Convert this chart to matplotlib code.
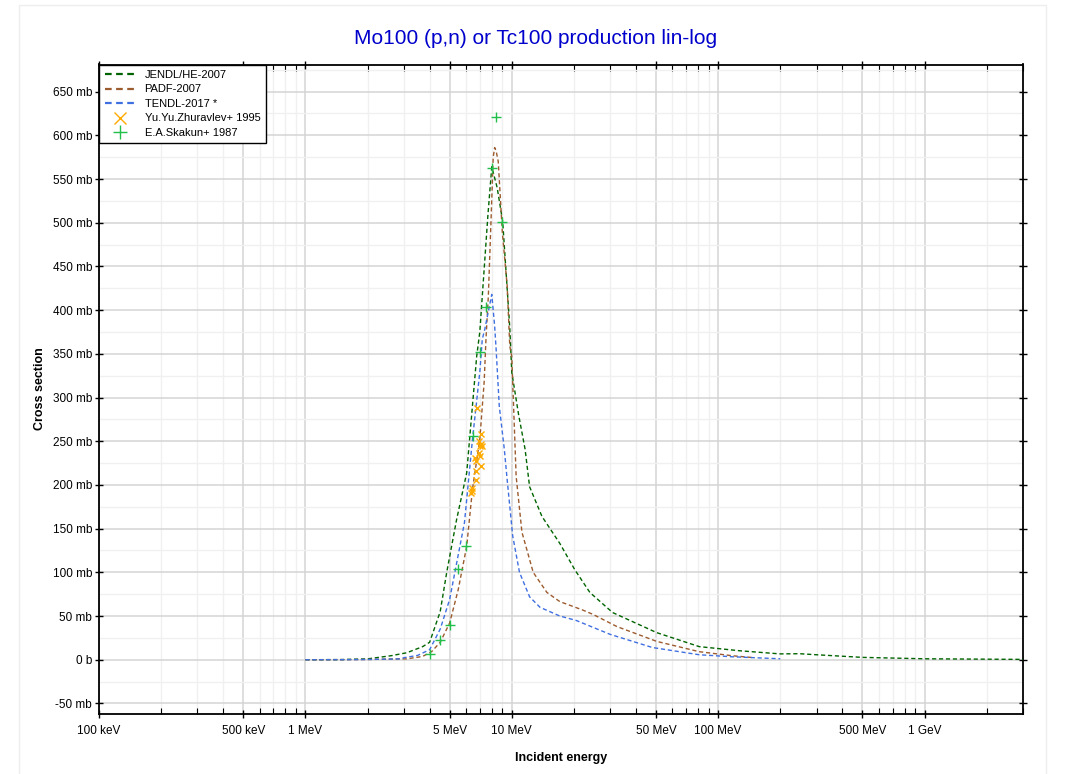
import numpy as np
import matplotlib
matplotlib.use("Agg")
import matplotlib.pyplot as plt
from matplotlib.ticker import FixedLocator, NullFormatter, MultipleLocator

plt.rcParams['font.family'] = ['Liberation Sans', 'DejaVu Sans']

# energies in eV, cross sections in mb
jendl_e = [1.0e6, 1.5e6, 2.0e6, 2.6e6, 3.1e6, 3.7e6, 4.0e6, 4.5e6, 4.84e6, 5.4e6, 6.05e6, 6.76e6,
           7.0e6, 7.66e6, 8.0e6, 8.5e6, 9.04e6, 9.78e6, 10.0e6, 10.8e6, 11.6e6, 12.2e6, 14.0e6,
           17.1e6, 20.2e6, 23.9e6, 30.8e6, 50.4e6, 81e6, 127e6, 199e6, 248e6, 300e6, 501e6,
           1.0e9, 3.0e9]
jendl_xs = [0.0, 0.2, 1.0, 4.6, 8.0, 15.0, 20.0, 55.0, 100.0, 160.0, 214.0, 347.0,
            375.0, 508.0, 564.0, 540.0, 501.0, 380.0, 329.0, 280.0, 241.0, 198.0, 164.0,
            133.0, 103.0, 77.0, 54.0, 31.0, 15.0, 10.3, 6.7, 6.9, 5.7, 2.7,
            1.1, 0.4]

padf_e = [1.0e6, 1.5e6, 2.0e6, 2.87e6, 3.1e6, 3.7e6, 4.1e6, 4.5e6, 5.0e6, 5.5e6, 6.05e6, 6.45e6,
          7.0e6, 7.35e6, 7.5e6, 7.7e6, 8.0e6, 8.13e6, 8.26e6, 8.4e6, 8.6e6, 9.0e6, 9.5e6, 9.78e6,
          10.0e6, 10.5e6, 11.2e6, 12.7e6, 14.8e6, 17.1e6, 22.0e6, 24.7e6, 32.3e6, 50.4e6, 81e6,
          117e6, 150e6]
padf_xs = [0.0, 0.1, 0.3, 1.0, 1.0, 3.8, 9.5, 20.0, 42.0, 80.0, 130.0, 195.0,
           252.0, 318.0, 367.0, 416.0, 527.0, 575.0, 586.0, 582.0, 570.0, 489.0, 428.0, 359.0,
           347.0, 210.0, 146.0, 100.0, 77.0, 66.5, 57.0, 52.0, 38.0, 21.0, 9.2,
           4.6, 2.3]

tendl_e = [1.0e6, 1.5e6, 2.0e6, 2.87e6, 3.0e6, 3.5e6, 4.0e6, 4.5e6, 5.0e6, 5.9e6, 6.45e6, 7.0e6,
           7.2e6, 7.4e6, 8.0e6, 8.26e6, 8.4e6, 8.7e6, 9.2e6, 9.5e6, 10.1e6, 10.9e6, 12.2e6,
           13.7e6, 17.1e6, 20.5e6, 30e6, 48e6, 81e6, 117e6, 200e6]
tendl_xs = [0.0, 0.1, 0.3, 1.0, 2.3, 5.0, 11.5, 35.0, 69.0, 157.0, 252.0, 329.0,
            367.0, 378.0, 418.0, 382.0, 355.0, 290.0, 241.0, 206.0, 142.0, 100.0, 72.0,
            60.0, 50.0, 45.0, 29.0, 14.0, 5.7, 3.4, 1.1]

zhur_e = [6.79e6, 7.12e6, 6.94e6, 7.12e6, 7.0e6, 7.16e6, 6.94e6, 7.0e6, 6.63e6, 6.7e6,
          7.07e6, 6.7e6, 6.72e6, 6.45e6, 6.45e6, 6.38e6]
zhur_xs = [288.5, 258.7, 250.3, 246.5, 244.5, 244.5, 237.0, 233.0, 231.0, 227.0,
           222.0, 216.0, 206.0, 197.0, 193.0, 191.0]

skak_e = [8.43e6, 7.98e6, 9.0e6, 7.48e6, 7.0e6, 6.47e6, 6.0e6, 5.5e6, 5.0e6, 4.5e6, 4.0e6]
skak_xs = [621.0, 563.0, 500.6, 403.0, 351.6, 256.0, 130.0, 104.0, 40.0, 23.0, 6.5]

xticks = [1e5, 5e5, 1e6, 5e6, 1e7, 5e7, 1e8, 5e8, 1e9]
xlabels = ['100 keV', '500 keV', '1 MeV', '5 MeV', '10 MeV', '50 MeV', '100 MeV', '500 MeV', '1 GeV']
yticks = list(range(-50, 651, 50))
ylabels = [('0 b' if v == 0 else '%d mb' % v) for v in yticks]

fig = plt.figure(figsize=(10.71, 7.74), dpi=100, facecolor='#FFFFFF')
# faint page frame
fig.patches.append(plt.Rectangle((19 / 1071, -0.01), (1046 - 19) / 1071, 1 - 5 / 774 + 0.01,
                                 transform=fig.transFigure, fill=False,
                                 edgecolor='#eeeeee', linewidth=1.0))
ax = fig.add_axes([99 / 1071, 1 - 713.5 / 774, (1023 - 99) / 1071, (713.5 - 64.5) / 774])

dash = (0, (3, 2))
ax.plot(jendl_e, jendl_xs, color='#006400', linestyle=dash, linewidth=1.0, label='JENDL/HE-2007', zorder=3)
ax.plot(padf_e, padf_xs, color='#9c5b2e', linestyle=dash, linewidth=1.0, label='PADF-2007', zorder=3)
ax.plot(tendl_e, tendl_xs, color='#3f6fe0', linestyle=dash, linewidth=1.0, label='TENDL-2017 *', zorder=3)
ax.plot(zhur_e, zhur_xs, linestyle='none', marker='x', color='#ffaa00', markersize=5,
        markeredgewidth=1.0, label='Yu.Yu.Zhuravlev+ 1995', zorder=4)
ax.plot(skak_e, skak_xs, linestyle='none', marker='+', color='#22c04a', markersize=7,
        markeredgewidth=1.0, label='E.A.Skakun+ 1987', zorder=4)

ax.set_xscale('log')
ax.set_xlim(1e5, 3e9)
ax.set_ylim(-61.5, 681)

ax.xaxis.set_major_locator(FixedLocator(xticks))
ax.set_xticklabels(xlabels)
minor_x = [m * 10 ** d for d in range(5, 10) for m in (2, 3, 4, 6, 7, 8, 9) if m * 10 ** d <= 3e9]
ax.xaxis.set_minor_locator(FixedLocator(minor_x))
ax.xaxis.set_minor_formatter(NullFormatter())
ax.set_yticks(yticks)
ax.set_yticklabels(ylabels)
ax.yaxis.set_minor_locator(MultipleLocator(25))

ax.grid(which='major', color='#d4d4d4', linewidth=1.1, zorder=0)
ax.grid(which='minor', color='#f0f0f0', linewidth=1.0, zorder=0)
ax.set_axisbelow(True)

ax.tick_params(which='major', direction='inout', length=6, width=1.0, labelsize=8.5,
               top=True, right=True, colors='black')
ax.tick_params(axis='x', which='minor', direction='in', length=4, width=0.8, top=True)
ax.tick_params(axis='y', which='minor', length=0)
ax.tick_params(axis='x', which='major', pad=5)
ax.tick_params(axis='y', which='major', pad=2)
for s in ax.spines.values():
    s.set_linewidth(1.3)

ax.set_xlabel('Incident energy', fontsize=9, fontweight='bold', labelpad=11)
ax.set_ylabel('Cross section', fontsize=9, fontweight='bold', labelpad=5)
fig.text(0.5, 1 - 38 / 774, 'Mo100 (p,n) or Tc100 production lin-log', color='#0000cc',
         fontsize=15, ha='center', va='center')

leg = ax.legend(loc='upper left', fontsize=8, frameon=True, fancybox=False,
                edgecolor='black', borderaxespad=0.0, handlelength=2.8,
                borderpad=0.5, labelspacing=0.4, framealpha=1.0)
leg.get_frame().set_linewidth(1.0)
handles = leg.get_lines()
for ln in handles[:3]:
    ln.set_linewidth(1.6)
handles[3].set_markersize(8)
handles[4].set_markersize(10)

fig.savefig('out.png', dpi=100, facecolor='#FFFFFF')
